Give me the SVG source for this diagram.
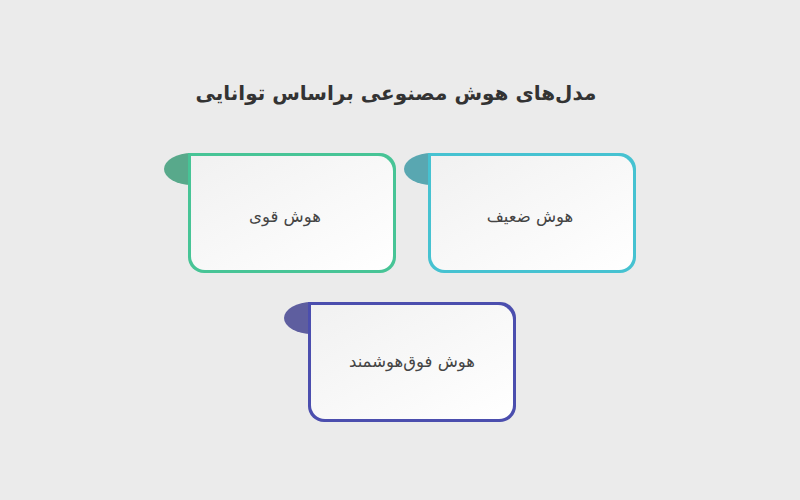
<svg xmlns="http://www.w3.org/2000/svg" width="800" height="500" viewBox="0 0 800 500">
<defs>
<linearGradient id="inner" x1="0" y1="0" x2="1" y2="1">
<stop offset="0" stop-color="#f1f1f1"/>
<stop offset="1" stop-color="#ffffff"/>
</linearGradient>
<style>
.title{font-family:"DejaVu Sans","Noto Sans",sans-serif;font-size:20px;font-weight:bold;fill:#333333;text-anchor:middle}
.label{font-family:"DejaVu Sans","Noto Sans",sans-serif;font-size:16.5px;fill:#444444;text-anchor:middle}
.inner{fill:url(#inner)}
</style>
</defs>
<rect width="800" height="500" fill="#ebebeb"/>
<text class="title" x="396" y="100" direction="rtl">مدل‌های هوش مصنوعی براساس توانایی</text>
<g id="connectors"></g>
<g id="node-strong">
<ellipse cx="192" cy="169" rx="28" ry="16" fill="#58a98b"/>
<path d="M188,153 H380 A16,16 0 0 1 396,169 V257 A16,16 0 0 1 380,273 H204 A16,16 0 0 1 188,257 Z" fill="#47c496"/>
<path d="M191,156 H378 A15,15 0 0 1 393,171 V256 A14,14 0 0 1 379,270 H205 A14,14 0 0 1 191,256 Z" class="inner"/>
<text class="label" x="285" y="222" direction="rtl">هوش قوی</text>
</g>
<g id="node-weak">
<ellipse cx="432" cy="169" rx="28" ry="16" fill="#59a7b1"/>
<path d="M428,153 H620 A16,16 0 0 1 636,169 V257 A16,16 0 0 1 620,273 H444 A16,16 0 0 1 428,257 Z" fill="#46c2d1"/>
<path d="M431,156 H618 A15,15 0 0 1 633,171 V256 A14,14 0 0 1 619,270 H445 A14,14 0 0 1 431,256 Z" class="inner"/>
<text class="label" x="530" y="222" direction="rtl">هوش ضعیف</text>
</g>
<g id="node-super">
<ellipse cx="312" cy="318" rx="28" ry="16" fill="#5e5e9f"/>
<path d="M308,302 H500 A16,16 0 0 1 516,318 V406 A16,16 0 0 1 500,422 H324 A16,16 0 0 1 308,406 Z" fill="#4b4eae"/>
<path d="M311,305 H498 A15,15 0 0 1 513,320 V405 A14,14 0 0 1 499,419 H325 A14,14 0 0 1 311,405 Z" class="inner"/>
<text class="label" x="412" y="367" direction="rtl">هوش فوق&#8204;هوشمند</text>
</g>
</svg>
